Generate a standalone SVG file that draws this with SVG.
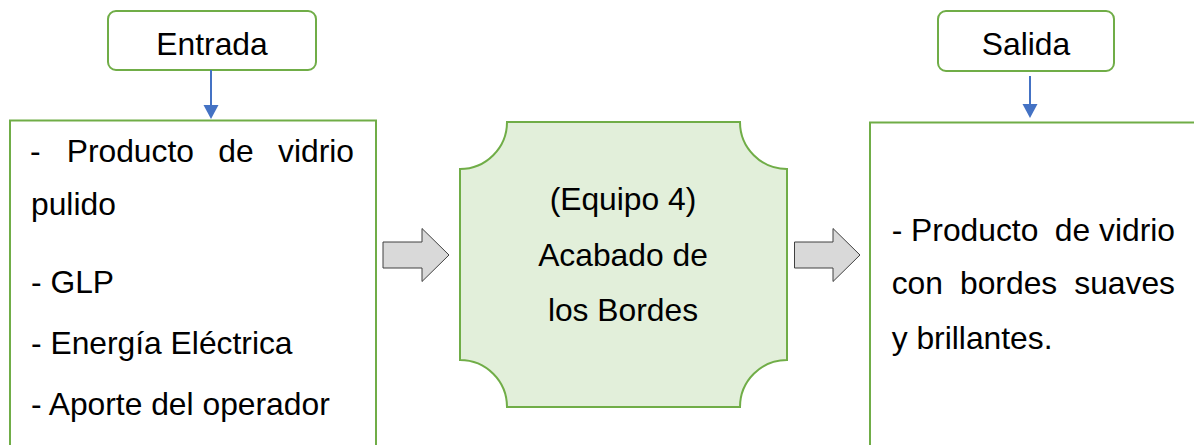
<svg xmlns="http://www.w3.org/2000/svg" width="1194" height="445" viewBox="0 0 1194 445">
<style>
.t{font-family:"Liberation Sans",Arial,sans-serif;font-size:31.8px;fill:#000}
.c{text-anchor:middle}
.e{text-anchor:end}
.box{fill:#fff;stroke:#70AD47;stroke-width:2}
.blk{fill:#D9D9D9;stroke:#404040;stroke-width:1}
.blue{stroke:#4472C4;stroke-width:2;fill:none}
</style>
<rect width="1194" height="445" fill="#fff"/>
<g id="entrada">
<rect class="box" x="108" y="11" width="208" height="59" rx="8"/>
<text class="t c" x="212" y="55">Entrada</text>
</g>
<g id="salida">
<rect class="box" x="938" y="11" width="176" height="60" rx="8"/>
<text class="t c" x="1026" y="54.5">Salida</text>
</g>
<g id="inputs">
<rect class="box" x="10" y="120.5" width="366" height="340"/>
<text class="t" x="30" y="162">-</text>
<text class="t" x="66.7" y="162">Producto</text>
<text class="t" x="218.3" y="162">de</text>
<text class="t e" x="354" y="162">vidrio</text>
<text class="t" x="31" y="215">pulido</text>
<text class="t" x="31" y="293">- GLP</text>
<text class="t" x="31" y="353.5">- Energía Eléctrica</text>
<text class="t" x="31" y="415">- Aporte del operador</text>
</g>
<g id="process">
<path d="M507,122 H740 A47,47 0 0 0 787,169 V360 A47,47 0 0 0 740,407 H507 A47,47 0 0 0 460,360 V169 A47,47 0 0 0 507,122 Z" fill="#E2EFDA" stroke="#70AD47" stroke-width="2"/>
<text class="t c" x="623" y="210">(Equipo 4)</text>
<text class="t c" x="623" y="265.7">Acabado de</text>
<text class="t c" x="623" y="321">los Bordes</text>
</g>
<g id="outputs">
<rect class="box" x="870" y="122.5" width="340" height="340"/>
<text class="t" x="891.7" y="240.5">- Producto</text>
<text class="t e" x="1175" y="240.5">de vidrio</text>
<text class="t" x="891.7" y="293.5">con</text>
<text class="t" x="960" y="293.5">bordes</text>
<text class="t e" x="1175" y="293.5">suaves</text>
<text class="t" x="891.7" y="348.5">y brillantes.</text>
</g>
<g id="connectors">
<line class="blue" x1="211" y1="70" x2="211" y2="106"/>
<polygon points="203.5,105 218.5,105 211,119" fill="#4472C4"/>
<line class="blue" x1="1030" y1="76" x2="1030" y2="105"/>
<polygon points="1022.5,104 1037.5,104 1030,118" fill="#4472C4"/>
<polygon class="blk" points="383,242 422,242 422,228.5 449,255 422,281.5 422,268 383,268"/>
<polygon class="blk" points="794.5,242 833,242 833,228.5 860,255 833,281.5 833,268 794.5,268"/>
</g>
</svg>
